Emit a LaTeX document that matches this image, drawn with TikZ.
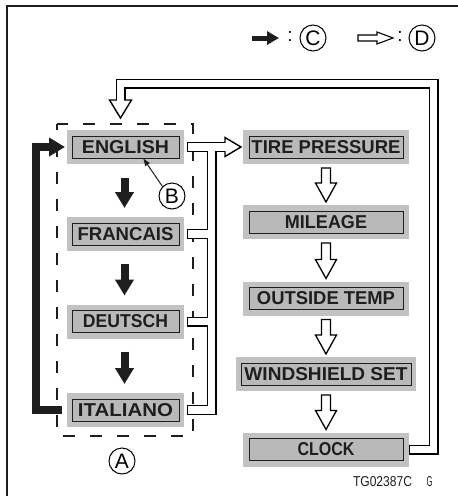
\documentclass[tikz,border=0pt]{standalone}
\usepackage{fontspec}
\setmainfont{Liberation Sans}
\usepackage{graphicx}
\usetikzlibrary{calc,arrows.meta}
\definecolor{boxgray}{HTML}{C2C2C2}
\definecolor{ingray}{HTML}{B9B9B9}
\definecolor{ink}{HTML}{1E1E1E}
\newcommand{\lcdtext}[2]{\resizebox{#1pt}{13pt}{\bfseries #2}}
\begin{document}
\begin{tikzpicture}[x=1pt,y=-1pt,
 outerbox/.style={fill=boxgray, draw=none, minimum height=34pt, inner sep=0pt, outer sep=0pt},
 innerbox/.style={fill=ingray, draw=ink, line width=0.9pt, minimum height=22pt, inner sep=0pt, outer sep=0pt, text=ink},
 circled/.style={circle, draw=black, line width=1pt, minimum size=26pt, inner sep=0pt, font=\fontsize{21}{21}\selectfont},
 pipeout/.style={line width=10pt, draw=black, line cap=butt, line join=miter},
 pipein/.style={line width=7.2pt, draw=white, line cap=butt, line join=miter},
 headstyle/.style={fill=white, draw=black, line width=1.4pt, line join=miter},
 solidarrow/.style={line width=8pt, draw=ink, line cap=butt, line join=miter, -{Triangle[length=16pt,width=18pt]}},
 hollowdown/.style={fill=white, draw=black, line width=1.3pt, line join=miter,
   to path={let \p1=(\tikztostart), \p2=(\tikztotarget) in
   (\x1-4.5pt,\y1) -- (\x1+4.5pt,\y1) -- (\x1+4.5pt,\y2+19pt) -- (\x1+10.5pt,\y2+19pt)
   -- (\x1,\y2) -- (\x1-10.5pt,\y2+19pt) -- (\x1-4.5pt,\y2+19pt) -- cycle}},
]
\useasboundingbox (0,0) rectangle (458,496);
\fill[white] (0,0) rectangle (458,496);
% frame
\draw[line width=1.5pt, draw=ink] (458,6) -- (7,6) -- (7,496);

% legend
\coordinate (lgCs) at (252,38);
\coordinate (lgCe) at (279,38);
\draw[line width=5pt, draw=ink, -{Triangle[length=12pt,width=13pt]}] (lgCs) -- (lgCe);
\node[font=\fontsize{19}{19}\selectfont] (colC) at (290,36.5) {:};
\node[circled] (legC) at (313,38) {C};
\filldraw[fill=white, draw=black, line width=1.1pt, line join=miter]
  (358,35) -- (377,35) -- (377,32) -- (393,38) -- (377,44) -- (377,41) -- (358,41) -- cycle;
\node[font=\fontsize{19}{19}\selectfont] (colD) at (400,36.5) {:};
\node[circled] (legD) at (422,38) {D};

% dashed group box
\draw[line width=1.4pt, draw=ink, dash pattern=on 12pt off 15pt, dash phase=6pt] (57,124) rectangle (193,436);

% language boxes
\node[outerbox, minimum width=117pt] (english) at (125.5,147) {};
\node[innerbox, minimum width=107pt] (english-t) at (english.center) {\lcdtext{87}{ENGLISH}};
\node[outerbox, minimum width=117pt] (francais) at (125.5,234) {};
\node[innerbox, minimum width=107pt] (francais-t) at (francais.center) {\lcdtext{96}{FRANCAIS}};
\node[outerbox, minimum width=117pt] (deutsch) at (125.5,321.5) {};
\node[innerbox, minimum width=107pt] (deutsch-t) at (deutsch.center) {\lcdtext{85}{DEUTSCH}};
\node[outerbox, minimum width=117pt] (italiano) at (125.5,410) {};
\node[innerbox, minimum width=107pt] (italiano-t) at (italiano.center) {\lcdtext{95}{ITALIANO}};

% right boxes
\node[outerbox, minimum width=166pt] (tire) at (326,147) {};
\node[innerbox, minimum width=154pt] (tire-t) at (tire.center) {\lcdtext{149}{TIRE PRESSURE}};
\node[outerbox, minimum width=166pt] (mileage) at (326,222) {};
\node[innerbox, minimum width=154pt] (mileage-t) at (mileage.center) {\lcdtext{82}{MILEAGE}};
\node[outerbox, minimum width=166pt] (outside) at (326,298.5) {};
\node[innerbox, minimum width=154pt] (outside-t) at (outside.center) {\lcdtext{138}{OUTSIDE TEMP}};
\node[outerbox, minimum width=180pt] (wind) at (326,374) {};
\node[innerbox, minimum width=170pt] (wind-t) at (wind.center) {\lcdtext{163}{WINDSHIELD SET}};
\node[outerbox, minimum width=166pt] (clock) at (326,449.5) {};
\node[innerbox, minimum width=154pt] (clock-t) at (clock.center) {\lcdtext{57}{CLOCK}};

% black arrows between languages
\draw[solidarrow] ($(english.south)+(-1,14)$) -- ($(francais.north)+(-1,-9)$);
\draw[solidarrow] ($(francais.south)+(-1,13)$) -- ($(deutsch.north)+(-1,-9)$);
\draw[solidarrow] ($(deutsch.south)+(-1,13)$) -- ($(italiano.north)+(-1,-9)$);

% thick return arrow on the left
\coordinate (lb) at (36,280);
\draw[solidarrow] ($(italiano.west)+(-5,0)$) -- (lb |- italiano.west) -- (lb |- english.west) -- ($(english.west)+(-2,0)$);

% hollow arrows on the right
\path[hollowdown] ($(tire.south)+(0,4)$) to ($(mileage.north)+(0,-3)$);
\path[hollowdown] ($(mileage.south)+(0,4)$) to ($(outside.north)+(0,-3)$);
\path[hollowdown] ($(outside.south)+(0,4)$) to ($(wind.north)+(0,-3)$);
\path[hollowdown] ($(wind.south)+(0,4)$) to ($(clock.north)+(0,-3)$);

% pipe coordinates
\coordinate (vp) at ($(english.east)+(27.5,0)$);
\coordinate (hb) at ($(tire.west)+(-18,0)$);
\coordinate (lr) at (433.5,83.5);
\coordinate (lx) at ($(english.north)+(-5,0)$);
\coordinate (lh) at (lx |- lr);
\coordinate (lbase) at ($(lx)+(0,-30)$);

% pipes: outer walls
\draw[pipeout] ($(english.east)+(3,0)$) -- (hb);
\draw[pipeout] (vp) -- (vp |- italiano.east) -- ($(italiano.east)+(3,0)$);
\draw[pipeout] ($(francais.east)+(3,0)$) -- (vp |- francais.east);
\draw[pipeout] ($(deutsch.east)+(3,0)$) -- (vp |- deutsch.east);
\draw[pipeout] ($(clock.east)+(-0.5,0)$) -- (lr |- clock.east) -- (lr) -- (lh) -- (lbase);
% heads
\filldraw[headstyle] ($(hb)+(0,-9.5)$) -- ($(tire.west)+(-2,0)$) -- ($(hb)+(0,9.5)$) -- cycle;
\filldraw[headstyle] ($(lbase)+(-11,0)$) -- ($(lx)+(0,-12)$) -- ($(lbase)+(11,0)$) -- cycle;
% pipes: white inside
\draw[pipein] ($(english.east)+(4.4,0)$) -- ($(hb)+(1,0)$);
\draw[pipein] (vp) -- (vp |- italiano.east) -- ($(italiano.east)+(4.4,0)$);
\draw[pipein] ($(francais.east)+(4.4,0)$) -- (vp |- francais.east);
\draw[pipein] ($(deutsch.east)+(4.4,0)$) -- (vp |- deutsch.east);
\draw[pipein] ($(clock.east)+(0.9,0)$) -- (lr |- clock.east) -- (lr) -- (lh) -- ($(lbase)+(0,1)$);

% B pointer
\node[circled] (B) at (172,196) {B};
\coordinate (btip) at (143,158);
\draw[line width=1pt, draw=ink, -{Latex[length=8pt,width=6pt]}] (B.north west) -- (btip);

% A label
\node[circled] (A) at (122,461) {A};

% figure code
\node[text=ink, inner sep=0pt] (code) at (382.5,482) {\resizebox{59pt}{10pt}{TG02387C}};
\node[text=ink, inner sep=0pt] (gmark) at (429.5,482) {\resizebox{6pt}{10pt}{G}};
\end{tikzpicture}
\end{document}
